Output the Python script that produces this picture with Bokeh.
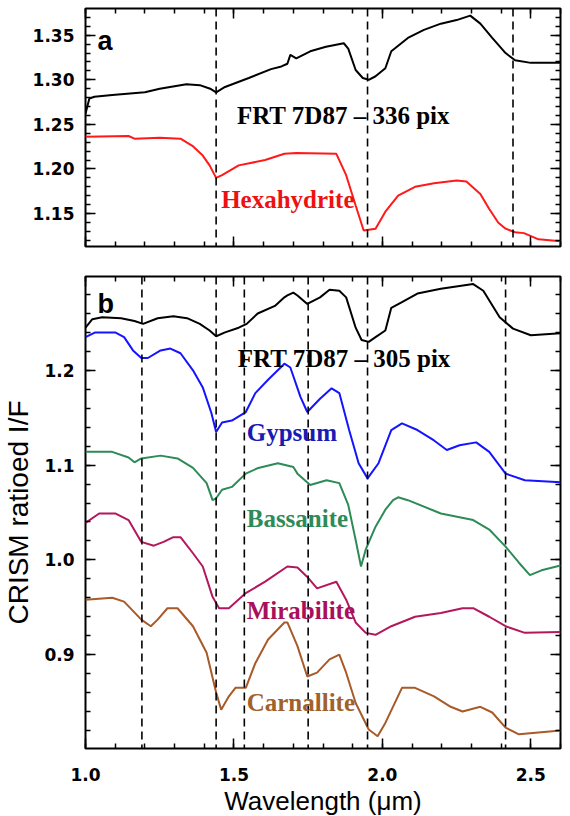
from bokeh.plotting import figure
from bokeh.layouts import column
from bokeh.models import (Span, Label, LinearAxis, SingleIntervalTicker,
                          NumeralTickFormatter, Range1d, CustomJSTickFormatter)
from bokeh.embed import file_html
from bokeh.resources import INLINE

# ---------------- data ----------------
# Panel a
frt336_x = [1.0, 1.013, 1.03, 1.09, 1.20, 1.25, 1.34, 1.385, 1.42, 1.44, 1.47, 1.55, 1.625,
            1.66, 1.68, 1.69, 1.71, 1.757, 1.81, 1.87, 1.885, 1.91, 1.934, 1.954, 1.977,
            2.01, 2.03, 2.086, 2.14, 2.197, 2.25, 2.296, 2.33, 2.37, 2.415, 2.447, 2.50,
            2.55, 2.6]
frt336_y = [1.262, 1.279, 1.281, 1.283, 1.286, 1.29, 1.295, 1.294, 1.29, 1.286, 1.292, 1.302,
            1.312, 1.315, 1.318, 1.328, 1.324, 1.332, 1.337, 1.341, 1.335, 1.311, 1.302,
            1.300, 1.304, 1.313, 1.332, 1.347, 1.356, 1.363, 1.367, 1.372, 1.363, 1.347,
            1.33, 1.322, 1.319, 1.319, 1.319]

hexa_x = [1.0, 1.145, 1.165, 1.25, 1.32, 1.36, 1.395, 1.418, 1.44, 1.46, 1.516, 1.605, 1.67,
          1.71, 1.845, 1.878, 1.91, 1.937, 1.977, 2.01, 2.053, 2.11, 2.174, 2.25, 2.283,
          2.33, 2.36, 2.39, 2.415, 2.447, 2.477, 2.526, 2.6]
hexa_y = [1.236, 1.237, 1.234, 1.235, 1.234, 1.226, 1.215, 1.204, 1.19, 1.193, 1.204, 1.21,
          1.217, 1.218, 1.217, 1.193, 1.159, 1.131, 1.133, 1.152, 1.17, 1.18, 1.184, 1.187,
          1.186, 1.172, 1.155, 1.140, 1.133, 1.129, 1.128, 1.121, 1.119]

bands_a = [1.44, 1.95, 2.44]

# Panel b
frt305_x = [1.0, 1.023, 1.056, 1.12, 1.165, 1.194, 1.243, 1.296, 1.342, 1.385, 1.418, 1.44,
            1.47, 1.516, 1.543, 1.58, 1.638, 1.67, 1.68, 1.70, 1.714, 1.747, 1.79, 1.822,
            1.855, 1.878, 1.91, 1.93, 1.954, 1.977, 2.01, 2.03, 2.066, 2.118, 2.197, 2.283,
            2.306, 2.34, 2.395, 2.44, 2.50, 2.6]
frt305_y = [1.245, 1.254, 1.256, 1.255, 1.252, 1.249, 1.255, 1.257, 1.255, 1.249, 1.242,
            1.236, 1.24, 1.245, 1.249, 1.26, 1.268, 1.277, 1.279, 1.282, 1.279, 1.27, 1.277,
            1.285, 1.284, 1.277, 1.245, 1.232, 1.23, 1.235, 1.242, 1.266, 1.272, 1.281,
            1.286, 1.29, 1.291, 1.284, 1.256, 1.244, 1.237, 1.239]

gyps_x = [1.0, 1.033, 1.1, 1.13, 1.16, 1.188, 1.21, 1.253, 1.286, 1.32, 1.362, 1.395, 1.424,
          1.44, 1.46, 1.493, 1.54, 1.572, 1.615, 1.67, 1.69, 1.724, 1.747, 1.79, 1.829,
          1.855, 1.888, 1.92, 1.95, 1.987, 2.03, 2.066, 2.118, 2.174, 2.217, 2.26, 2.316,
          2.36, 2.415, 2.48, 2.6]
gyps_y = [1.235, 1.24, 1.24, 1.235, 1.221, 1.213, 1.213, 1.221, 1.223, 1.218, 1.2, 1.182,
          1.155, 1.135, 1.145, 1.147, 1.156, 1.176, 1.19, 1.207, 1.203, 1.172, 1.156, 1.17,
          1.181, 1.176, 1.137, 1.102, 1.086, 1.102, 1.137, 1.144, 1.137, 1.126, 1.116,
          1.121, 1.124, 1.114, 1.091, 1.084, 1.082]

bass_x = [1.0, 1.09, 1.145, 1.165, 1.188, 1.253, 1.31, 1.362, 1.408, 1.428, 1.44, 1.46,
          1.493, 1.54, 1.582, 1.648, 1.70, 1.714, 1.757, 1.812, 1.855, 1.885, 1.91, 1.928,
          1.944, 1.977, 2.01, 2.036, 2.053, 2.086, 2.197, 2.306, 2.36, 2.415, 2.46, 2.497,
          2.536, 2.6]
bass_y = [1.114, 1.114, 1.108, 1.103, 1.107, 1.11, 1.107, 1.097, 1.081, 1.063, 1.065, 1.074,
          1.077, 1.091, 1.097, 1.102, 1.098, 1.091, 1.079, 1.084, 1.081, 1.058, 1.021,
          0.993, 1.011, 1.035, 1.053, 1.063, 1.066, 1.063, 1.049, 1.042, 1.032, 1.014,
          0.997, 0.984, 0.989, 0.994]

mira_x = [1.0, 1.046, 1.1, 1.145, 1.188, 1.23, 1.263, 1.296, 1.32, 1.362, 1.395, 1.428, 1.45,
          1.483, 1.54, 1.605, 1.68, 1.714, 1.747, 1.78, 1.845, 1.878, 1.91, 1.944, 1.977,
          2.03, 2.11, 2.197, 2.27, 2.306, 2.36, 2.415, 2.48, 2.6]
mira_y = [1.039, 1.049, 1.049, 1.042, 1.019, 1.015, 1.019, 1.024, 1.024, 1.007, 0.993, 0.961,
          0.949, 0.949, 0.965, 0.977, 0.993, 0.992, 0.982, 0.97, 0.977, 0.958, 0.934, 0.923,
          0.921, 0.93, 0.94, 0.944, 0.949, 0.949, 0.94, 0.93, 0.923, 0.924]

carn_x = [1.0, 1.09, 1.13, 1.188, 1.22, 1.243, 1.276, 1.31, 1.362, 1.408, 1.44, 1.457, 1.483,
          1.505, 1.54, 1.572, 1.615, 1.67, 1.68, 1.714, 1.747, 1.78, 1.822, 1.855, 1.878,
          1.91, 1.954, 1.984, 2.01, 2.066, 2.11, 2.174, 2.23, 2.27, 2.33, 2.37, 2.415, 2.46,
          2.526, 2.6]
carn_y = [0.958, 0.96, 0.956, 0.937, 0.93, 0.937, 0.949, 0.949, 0.93, 0.902, 0.86, 0.842,
          0.856, 0.865, 0.865, 0.891, 0.916, 0.934, 0.934, 0.909, 0.877, 0.881, 0.895, 0.9,
          0.881, 0.849, 0.821, 0.814, 0.828, 0.865, 0.865, 0.856, 0.845, 0.84, 0.845, 0.839,
          0.823, 0.816, 0.818, 0.82]

bands_b = [1.19, 1.44, 1.535, 1.75, 1.95, 2.415]

# ---------------- styling helpers ----------------
TICK_FONT = "DejaVu Sans"


def style_axis(ax, interval, labels, fmt="0.0"):
    ax.ticker = SingleIntervalTicker(interval=interval, num_minor_ticks=5)
    ax.axis_line_color = None
    ax.major_tick_in = 10
    ax.major_tick_out = 0
    ax.minor_tick_in = 5
    ax.minor_tick_out = 0
    ax.major_tick_line_width = 1.5
    ax.minor_tick_line_width = 1.5
    ax.major_tick_line_color = "black"
    ax.minor_tick_line_color = "black"
    if labels:
        ax.formatter = NumeralTickFormatter(format=fmt)
        ax.major_label_text_font = TICK_FONT
        ax.major_label_text_font_style = "bold"
        ax.major_label_text_font_size = "17px"
        ax.major_label_text_color = "black"
    else:
        ax.formatter = CustomJSTickFormatter(code="return '';")
        ax.major_label_standoff = 0


def make_fig(height, yr, ytick, yfmt, top, bottom, xlabels):
    p = figure(width=562, height=height, x_range=Range1d(1.0, 2.6), y_range=Range1d(*yr),
               output_backend="svg", toolbar_location=None,
               min_border_left=75, min_border_right=2,
               min_border_top=top, min_border_bottom=bottom)
    p.grid.visible = False
    p.outline_line_color = "black"
    p.outline_line_width = 2
    p.outline_line_alpha = 1
    p.background_fill_color = "white"
    p.border_fill_color = "white"
    xb = p.below[0]
    yl = p.left[0]
    style_axis(xb, 0.5, xlabels)
    style_axis(yl, ytick, True, yfmt)
    yl.major_label_standoff = 11
    ax_top = LinearAxis()
    style_axis(ax_top, 0.5, False)
    p.add_layout(ax_top, "above")
    ax_right = LinearAxis()
    style_axis(ax_right, ytick, False)
    p.add_layout(ax_right, "right")
    return p, xb, yl


def add_bands(p, bands):
    for b in bands:
        p.add_layout(Span(location=b, dimension="height", line_color="black",
                          line_width=1.6, line_dash="8 5"))


def add_label(p, x, y, text, color, serif=True, size="25px"):
    p.add_layout(Label(x=x, y=y, text=text, text_color=color,
                       text_font="Liberation Serif" if serif else "Liberation Sans",
                       text_font_style="bold", text_font_size=size,
                       text_baseline="alphabetic"))


# ---------------- panel a ----------------
pa, pa_x, pa_y = make_fig(258, (1.113, 1.380), 0.05, "0.00", 8, 12, False)
add_bands(pa, bands_a)
pa.line(frt336_x, frt336_y, line_color="black", line_width=2)
pa.line(hexa_x, hexa_y, line_color="#ff1a1a", line_width=2)
add_label(pa, 1.04, 1.343, "a", "black", serif=False, size="27px")
add_label(pa, 1.51, 1.26, "FRT 7D87 \u2013 336 pix", "black")
add_label(pa, 1.457, 1.166, "Hexahydrite", "#ee1111")

# ---------------- panel b ----------------
pb, pb_x, pb_y = make_fig(560, (0.801, 1.299), 0.1, "0.0", 18, 64, True)
pb_x.major_label_standoff = 19
pb_x.axis_label = "Wavelength (\u03bcm)"
pb_x.axis_label_text_font = "Liberation Sans"
pb_x.axis_label_text_font_style = "normal"
pb_x.axis_label_text_font_size = "26px"
pb_x.axis_label_standoff = 2
pb_x.axis_label_text_color = "black"
pb_y.axis_label = "CRISM ratioed I/F"
pb_y.axis_label_text_font = "Liberation Sans"
pb_y.axis_label_text_font_style = "normal"
pb_y.axis_label_text_font_size = "28px"
pb_y.axis_label_standoff = 7
pb_y.axis_label_text_color = "black"

add_bands(pb, bands_b)
pb.line(frt305_x, frt305_y, line_color="black", line_width=2)
pb.line(gyps_x, gyps_y, line_color="#1414ff", line_width=2)
pb.line(bass_x, bass_y, line_color="#2e8b57", line_width=2)
pb.line(mira_x, mira_y, line_color="#b4185c", line_width=2)
pb.line(carn_x, carn_y, line_color="#a85a28", line_width=2)

add_label(pb, 1.04, 1.27, "b", "black", serif=False, size="27px")
add_label(pb, 1.513, 1.213, "FRT 7D87 \u2013 305 pix", "black")
add_label(pb, 1.543, 1.134, "Gypsum", "#1a1ab4")
add_label(pb, 1.543, 1.044, "Bassanite", "#2e8b57")
add_label(pb, 1.543, 0.947, "Mirabilite", "#a8105a")
add_label(pb, 1.543, 0.85, "Carnallite", "#a0622a")

layout = column(pa, pb, spacing=0)
open("out.html", "w").write(file_html(layout, INLINE))
